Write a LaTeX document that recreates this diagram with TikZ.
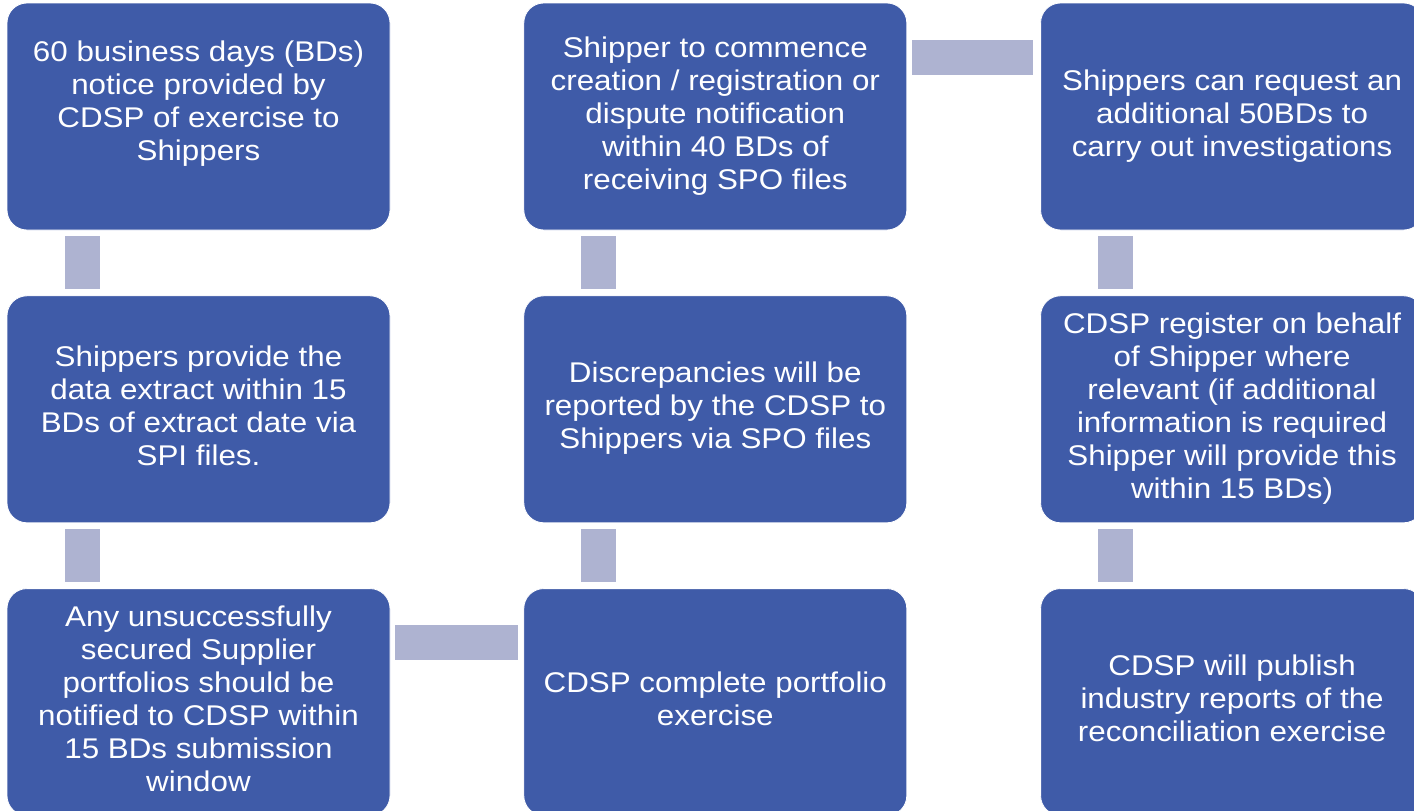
\documentclass[tikz,border=0pt]{standalone}
\usepackage{fontspec}
\setmainfont{Liberation Sans}
\usetikzlibrary{positioning,calc}
\definecolor{stageblue}{HTML}{3F5BA8}
\definecolor{linkgrey}{HTML}{AEB3D1}
\newcommand{\stagetext}[1]{\scalebox{1.1}[1]{\begin{tabular}{@{}c@{}}#1\end{tabular}}}
\tikzset{%
	stage/.style = {draw=white, line width=0.8pt, fill=stageblue, rectangle, rounded corners=20pt, minimum width=383pt, minimum height=227pt, align=center, text=white, inner sep=0pt, font=\fontsize{28.5}{33}\selectfont},
	link/.style  = {fill=linkgrey},
}
\begin{document}
\begin{tikzpicture}[x=1pt,y=-1pt]
	\useasboundingbox (0,0) rectangle (1414,811);
	\clip (0,0) rectangle (1414,811);
	% stages
	\node[stage] (s1) at (198.5,116.5) {\stagetext{60 business days (BDs)\\ notice provided by\\ CDSP of exercise to\\ Shippers\\[24pt]}};
	\node[stage, right=133pt of s1] (s2) {\stagetext{Shipper to commence\\ creation / registration or\\ dispute notification\\ within 40 BDs of\\ receiving SPO files}};
	\node[stage, right=133pt of s2] (s3) {\stagetext{Shippers can request an\\ additional 50BDs to\\ carry out investigations}};
	\node[stage, below=65pt of s1] (s4) {\stagetext{Shippers provide the\\ data extract within 15\\ BDs of extract date via\\ SPI files.}};
	\node[stage, below=65pt of s2] (s5) {\stagetext{Discrepancies will be\\ reported by the CDSP to\\ Shippers via SPO files}};
	\node[stage, below=65pt of s3] (s6) {\stagetext{CDSP register on behalf\\ of Shipper where\\ relevant (if additional\\ information is required\\ Shipper will provide this\\ within 15 BDs)}};
	\node[stage, below=65pt of s4] (s7) {\stagetext{Any unsuccessfully\\ secured Supplier\\ portfolios should be\\ notified to CDSP within\\ 15 BDs submission\\ window}};
	\node[stage, below=65pt of s5] (s8) {\stagetext{CDSP complete portfolio\\ exercise}};
	\node[stage, below=65pt of s6] (s9) {\stagetext{CDSP will publish\\ industry reports of the\\ reconciliation exercise}};
	% links
	\foreach \a/\b in {s1/s4,s4/s7,s2/s5,s5/s8,s3/s6,s6/s9}
		\fill[link] ($(\a.south west)+(58,6)$) rectangle ($(\b.north west)+(93,-6)$);
	\fill[link] ($(s2.north east)+(5,37)$) rectangle ($(s3.north west)+(-7,72)$);
	\fill[link] ($(s7.north east)+(5,37)$) rectangle ($(s8.north west)+(-5,72)$);
\end{tikzpicture}
\end{document}
